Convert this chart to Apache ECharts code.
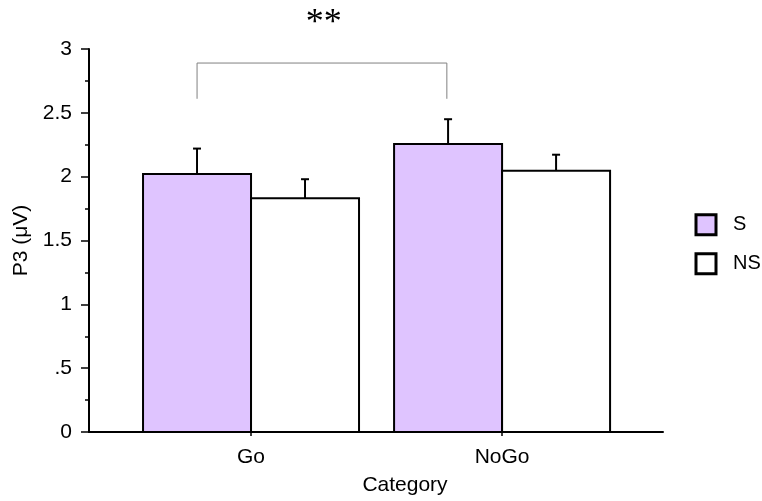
<!DOCTYPE html>
<html>
<head>
<meta charset="utf-8">
<script src="https://cdn.jsdelivr.net/npm/echarts@6/dist/echarts.min.js"></script>
<style>
  html, body { margin: 0; padding: 0; background: #fff; }
  #chart { width: 762px; height: 501px; }
</style>
</head>
<body>
<div id="chart"></div>
<script>
// P3 amplitude per condition, with standard errors (upper whiskers only)
const categories = ['Go', 'NoGo'];
const seriesNames = ['S', 'NS'];
const sMeans = [2.02, 2.255];
const sErrors = [0.20, 0.195];
const nsMeans = [1.83, 2.047];
const nsErrors = [0.15, 0.125];

// y-axis ticks and their printed labels
const yTickValues = [0, 0.5, 1, 1.5, 2, 2.5, 3];
const yTickLabels = ['0', '.5', '1', '1.5', '2', '2.5', '3'];

// significance bracket between the two S bars
const bracketX = [0.785, 1.78];
const bracketY = [2.61, 2.89];
const sigLabel = '**';
const sigPos = [1.29, 3.20];

const FONT = '"Liberation Sans", Arial, sans-serif';
const COLORS = { S: '#dfc4ff', NS: '#ffffff' };
const BAR_W = 108;
const CAP_W = 8;

function barRenderer(side, fill) {
  return function (params, api) {
    const x = api.value(0), v = api.value(1), e = api.value(2);
    const base = api.coord([x, 0]);
    const top = api.coord([x, v]);
    const whisker = api.coord([x, v + e]);
    const left = side < 0 ? base[0] - BAR_W : base[0];
    const cx = left + BAR_W / 2;
    return {
      type: 'group',
      children: [
        { type: 'line', shape: { x1: cx, y1: top[1], x2: cx, y2: whisker[1] },
          style: { stroke: '#000', lineWidth: 2 } },
        { type: 'line', shape: { x1: cx - CAP_W / 2, y1: whisker[1], x2: cx + CAP_W / 2, y2: whisker[1] },
          style: { stroke: '#000', lineWidth: 2 } },
        { type: 'rect', shape: { x: left, y: top[1], width: BAR_W, height: base[1] - top[1] },
          style: { fill: fill, stroke: '#000', lineWidth: 2 } }
      ]
    };
  };
}

const chart = echarts.init(document.getElementById('chart'), null, { renderer: 'canvas' });

chart.setOption({
  animation: false,
  backgroundColor: '#fff',
  grid: { left: 89, right: 99, top: 49, bottom: 68 },
  xAxis: {
    type: 'value',
    min: 0.3546,
    max: 2.641,
    splitLine: { show: false },
    axisLine: { show: true, lineStyle: { color: '#000', width: 2 } },
    axisTick: { show: true, customValues: [1, 2], length: 4, lineStyle: { color: '#000', width: 1.5 } },
    axisLabel: {
      customValues: [1, 2],
      formatter: v => categories[Math.round(v) - 1],
      color: '#000', fontSize: 21, fontFamily: FONT, margin: 15
    },
    name: 'Category',
    nameLocation: 'middle',
    nameGap: 43,
    nameTextStyle: { color: '#000', fontSize: 21, fontFamily: FONT, padding: [0, 0, 0, 58] }
  },
  yAxis: {
    type: 'value',
    min: 0,
    max: 3,
    interval: 0.5,
    splitLine: { show: false },
    axisLine: { show: true, lineStyle: { color: '#000', width: 2 } },
    axisTick: { show: true, length: 8, lineStyle: { color: '#000', width: 1.5 } },
    minorTick: { show: true, splitNumber: 2, length: 4, lineStyle: { color: '#000', width: 1.5 } },
    axisLabel: {
      formatter: v => yTickLabels[yTickValues.indexOf(v)],
      color: '#000', fontSize: 21, fontFamily: FONT, margin: 17
    },
    name: 'P3 (μV)',
    nameLocation: 'middle',
    nameGap: 52,
    nameTextStyle: { color: '#000', fontSize: 21, fontFamily: FONT }
  },
  legend: {
    orient: 'vertical',
    left: 694.5,
    top: 213.3,
    padding: 0,
    itemWidth: 20,
    itemHeight: 20,
    itemGap: 16,
    selectedMode: false,
    textStyle: { color: '#000', fontSize: 20, lineHeight: 20, fontFamily: FONT, padding: [0, 0, 0, 12] },
    data: seriesNames.map(n => ({
      name: n,
      icon: 'rect',
      itemStyle: { color: COLORS[n], borderColor: '#000', borderWidth: 3 }
    }))
  },
  series: [
    {
      name: 'S',
      type: 'custom',
      itemStyle: { color: COLORS.S, borderColor: '#000' },
      renderItem: barRenderer(-1, COLORS.S),
      encode: { x: 0, y: 1 },
      data: categories.map((c, i) => [i + 1, sMeans[i], sErrors[i]]),
      z: 3
    },
    {
      name: 'NS',
      type: 'custom',
      itemStyle: { color: COLORS.NS, borderColor: '#000' },
      renderItem: barRenderer(1, COLORS.NS),
      encode: { x: 0, y: 1 },
      data: categories.map((c, i) => [i + 1, nsMeans[i], nsErrors[i]]),
      z: 3
    },
    {
      name: 'bracket',
      type: 'custom',
      clip: false,
      silent: true,
      data: [[bracketX[0], bracketY[0], bracketX[1], bracketY[1]]],
      renderItem: function (params, api) {
        const a = api.coord([api.value(0), api.value(1)]);
        const b = api.coord([api.value(0), api.value(3)]);
        const c = api.coord([api.value(2), api.value(3)]);
        const d = api.coord([api.value(2), api.value(1)]);
        return {
          type: 'polyline',
          shape: { points: [a, b, c, d] },
          style: { stroke: '#808080', lineWidth: 1, fill: null }
        };
      },
      z: 2
    },
    {
      name: 'significance',
      type: 'custom',
      clip: false,
      silent: true,
      data: [[sigPos[0], sigPos[1]]],
      renderItem: function (params, api) {
        const p = api.coord([api.value(0), api.value(1)]);
        return {
          type: 'text',
          x: p[0], y: p[1],
          style: {
            text: sigLabel, fill: '#000',
            font: '36px "Liberation Serif", "Times New Roman", serif',
            align: 'center', verticalAlign: 'middle'
          }
        };
      },
      z: 2
    }
  ]
});
</script>
</body>
</html>
